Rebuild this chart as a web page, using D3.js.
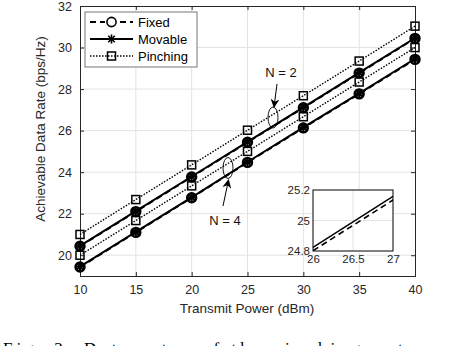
<!DOCTYPE html>
<html>
<head>
<meta charset="utf-8">
<script src="https://cdn.jsdelivr.net/npm/d3@7"></script>
<style>
body { margin: 0; background: #fff; }
text { font-family: "Liberation Sans", Arial, sans-serif; }
</style>
</head>
<body>
<svg id="chart"></svg>
<script>
// transmit power (dBm)
let power = [10, 15, 20, 25, 30, 35, 40];
// achievable data rate (bps/Hz), N = 2 group on top, N = 4 below
let pinchingN2 = [21.0, 22.68, 24.35, 26.02, 27.68, 29.35, 31.03];
let movableN2  = [20.45, 22.12, 23.79, 25.46, 27.12, 28.79, 30.46];
let fixedN2    = [20.43, 22.10, 23.77, 25.44, 27.10, 28.77, 30.44];
let pinchingN4 = [20.0, 21.67, 23.34, 25.0, 26.67, 28.34, 30.0];
let movableN4  = [19.45, 21.12, 22.79, 24.49, 26.16, 27.79, 29.46];
let fixedN4    = [19.43, 21.10, 22.77, 24.47, 26.13, 27.77, 29.43];

let yTicks = [20, 22, 24, 26, 28, 30, 32];
let insetXTicks = [26, 26.5, 27];
let insetYTicks = [24.8, 25, 25.2];
let legendNames = ["Fixed", "Movable", "Pinching"];

let width = 456, height = 346;
let svg = d3.select("#chart").attr("width", width).attr("height", height);

let x = d3.scaleLinear().domain([10, 40]).range([80, 415]);
let y = d3.scaleLinear().domain([19, 32]).range([276, 6]);

let axisColor = "#262626";
let gridColor = "#e3e3e3";

let styles = {
    Fixed: { dash: "6,4", marker: "circle" },
    Movable: { dash: null, marker: "star" },
    Pinching: { dash: "1.5,1.5", marker: "square" }
};

let series = [
    { type: "Fixed", values: fixedN2 },
    { type: "Fixed", values: fixedN4 },
    { type: "Movable", values: movableN2 },
    { type: "Movable", values: movableN4 },
    { type: "Pinching", values: pinchingN2 },
    { type: "Pinching", values: pinchingN4 }
];

// plot background
svg.append("rect").attr("x", x(10)).attr("y", y(32))
    .attr("width", x(40) - x(10)).attr("height", y(19) - y(32)).attr("fill", "#fff");

// grid
let grid = svg.append("g");
grid.selectAll(".gx").data(power.slice(1, -1)).join("line")
    .attr("x1", d => x(d)).attr("x2", d => x(d))
    .attr("y1", y(19)).attr("y2", y(32))
    .attr("stroke", gridColor).attr("stroke-width", 1);
grid.selectAll(".gy").data(yTicks.slice(0, -1)).join("line")
    .attr("x1", x(10)).attr("x2", x(40))
    .attr("y1", d => y(d)).attr("y2", d => y(d))
    .attr("stroke", gridColor).attr("stroke-width", 1);

// axes
let xAxis = svg.append("g").attr("transform", `translate(0,${y(19)})`)
    .call(d3.axisBottom(x).tickValues(power).tickSize(-4).tickPadding(9));
let yAxis = svg.append("g").attr("transform", `translate(${x(10)},0)`)
    .call(d3.axisLeft(y).tickValues(yTicks).tickSize(-4).tickPadding(8));
let xTop = svg.append("g").attr("transform", `translate(0,${y(32)})`)
    .call(d3.axisTop(x).tickValues(power).tickSize(-4).tickFormat(""));
let yRight = svg.append("g").attr("transform", `translate(${x(40)},0)`)
    .call(d3.axisRight(y).tickValues(yTicks).tickSize(-4).tickFormat(""));
[xAxis, yAxis, xTop, yRight].forEach(a => {
    a.select(".domain").attr("stroke", axisColor).attr("stroke-width", 1);
    a.selectAll(".tick line").attr("stroke", axisColor);
    a.selectAll("text").attr("fill", axisColor).attr("font-size", 12.5)
        .style("font-family", "'Liberation Sans', Arial, sans-serif");
});

// lines
let line = d3.line().x((d, i) => x(power[i])).y(d => y(d));
let lines = svg.append("g");
series.forEach(s => {
    lines.append("path").datum(s.values)
        .attr("d", line)
        .attr("fill", "none").attr("stroke", "#000")
        .attr("stroke-width", s.type === "Pinching" ? 1.4 : 2)
        .attr("stroke-dasharray", styles[s.type].dash);
});

function drawMarker(g, type, cx, cy, heavy) {
    if (type === "circle") {
        g.append("circle").attr("cx", cx).attr("cy", cy).attr("r", heavy ? 4.4 : 4.6)
            .attr("fill", "none").attr("stroke", "#000").attr("stroke-width", heavy ? 2.6 : 1.6);
    } else if (type === "star") {
        let r = 4.6;
        [0, 45, 90, 135].forEach(a => {
            let dx = r * Math.cos(a * Math.PI / 180), dy = r * Math.sin(a * Math.PI / 180);
            g.append("line").attr("x1", cx - dx).attr("y1", cy - dy)
                .attr("x2", cx + dx).attr("y2", cy + dy)
                .attr("stroke", "#000").attr("stroke-width", heavy ? 2 : 1.6);
        });
    } else {
        g.append("rect").attr("x", cx - 4).attr("y", cy - 4).attr("width", 8).attr("height", 8)
            .attr("fill", "none").attr("stroke", "#000").attr("stroke-width", 1.5);
    }
}

// on the curves the asterisk sits over the circle, so they read as solid dots
let markers = svg.append("g");
series.forEach(s => {
    s.values.forEach((v, i) => drawMarker(markers, styles[s.type].marker, x(power[i]), y(v), true));
});

// annotations
svg.append("defs").append("marker")
    .attr("id", "arrow").attr("viewBox", "0 0 10 10").attr("refX", 9).attr("refY", 5)
    .attr("markerWidth", 9).attr("markerHeight", 9).attr("orient", "auto-start-reverse")
    .append("path").attr("d", "M0,0 L10,5 L0,10 L3,5 Z").attr("fill", "#000");

function annotate(label, tx, ty, x1, y1, x2, y2, ex, ey) {
    svg.append("ellipse").attr("cx", ex).attr("cy", ey).attr("rx", 5).attr("ry", 10.5)
        .attr("fill", "none").attr("stroke", "#000").attr("stroke-width", 0.9);
    svg.append("line").attr("x1", x1).attr("y1", y1).attr("x2", x2).attr("y2", y2)
        .attr("stroke", "#000").attr("stroke-width", 1).attr("marker-end", "url(#arrow)");
    svg.append("text").attr("x", tx).attr("y", ty).attr("text-anchor", "middle")
        .attr("font-size", 13).attr("fill", "#111").text(label);
}
annotate("N = 2", 281, 77, 277, 84, 274, 107, 273, 117.5);
annotate("N = 4", 225, 225, 223, 206, 228.5, 180, 228, 168);

// inset
let ix = d3.scaleLinear().domain([26, 27]).range([313, 393]);
let iy = d3.scaleLinear().domain([24.8, 25.2]).range([251, 190]);
let inset = svg.append("g");
inset.append("rect").attr("x", 313).attr("y", 190).attr("width", 80).attr("height", 61)
    .attr("fill", "#fff");
inset.selectAll(".igx").data([26.5]).join("line")
    .attr("x1", d => ix(d)).attr("x2", d => ix(d)).attr("y1", iy(24.8)).attr("y2", iy(25.2))
    .attr("stroke", gridColor);
inset.selectAll(".igy").data([25]).join("line")
    .attr("x1", ix(26)).attr("x2", ix(27)).attr("y1", d => iy(d)).attr("y2", d => iy(d))
    .attr("stroke", gridColor);
svg.append("clipPath").attr("id", "insetClip").append("rect")
    .attr("x", 313).attr("y", 190).attr("width", 80).attr("height", 61);
let iline = d3.line().x((d, i) => ix(power[i])).y(d => iy(d));
inset.append("g").attr("clip-path", "url(#insetClip)")
    .selectAll("path").data([{ v: fixedN4, dash: "6,4" }, { v: movableN4, dash: null }]).join("path")
    .attr("d", d => iline(d.v))
    .attr("fill", "none").attr("stroke", "#000").attr("stroke-width", 1.6)
    .attr("stroke-dasharray", d => d.dash);
inset.append("rect").attr("x", 313).attr("y", 190).attr("width", 80).attr("height", 61)
    .attr("fill", "none").attr("stroke", "#000").attr("stroke-width", 1);
let ixa = inset.append("g").attr("transform", `translate(0,251)`)
    .call(d3.axisBottom(ix).tickValues(insetXTicks).tickSize(0).tickPadding(4).tickFormat(d3.format("")));
let iya = inset.append("g").attr("transform", `translate(313,0)`)
    .call(d3.axisLeft(iy).tickValues(insetYTicks).tickSize(0).tickPadding(3).tickFormat(d3.format("")));
[ixa, iya].forEach(a => {
    a.select(".domain").remove();
    a.selectAll("text").attr("fill", axisColor).attr("font-size", 11.5)
        .style("font-family", "'Liberation Sans', Arial, sans-serif");
});

// axis labels
svg.append("text").attr("x", 247).attr("y", 313).attr("text-anchor", "middle")
    .attr("font-size", 13.5).attr("fill", axisColor).text("Transmit Power (dBm)");
svg.append("text").attr("transform", "translate(45,129) rotate(-90)").attr("text-anchor", "middle")
    .attr("font-size", 13.5).attr("fill", axisColor).text("Achievable Data Rate (bps/Hz)");

// legend
let legend = svg.append("g");
legend.append("rect").attr("x", 85).attr("y", 12).attr("width", 112).attr("height", 55)
    .attr("fill", "#fff").attr("stroke", "#777").attr("stroke-width", 1);
legendNames.forEach((name, i) => {
    let ly = 22 + i * 17;
    legend.append("line").attr("x1", 90).attr("x2", 133).attr("y1", ly).attr("y2", ly)
        .attr("stroke", "#000").attr("stroke-width", name === "Pinching" ? 1.4 : 2)
        .attr("stroke-dasharray", styles[name].dash);
    if (name === "Fixed") {
        legend.append("rect").attr("x", 105).attr("y", ly - 6).attr("width", 13).attr("height", 12).attr("fill", "#fff");
    }
    drawMarker(legend, styles[name].marker, 111.5, ly, false);
    legend.append("text").attr("x", 138).attr("y", ly + 4.5).attr("font-size", 13)
        .attr("fill", "#000").text(name);
});

// caption (cut off by the frame, as in the source)
svg.append("text").attr("x", 3).attr("y", 354).attr("font-size", 17)
    .style("font-family", "'Liberation Serif', 'Times New Roman', serif")
    .attr("textLength", 448).attr("lengthAdjust", "spacing")
    .text("Fig. 2: Data rates of the pinching-antenna");
</script>
</body>
</html>
